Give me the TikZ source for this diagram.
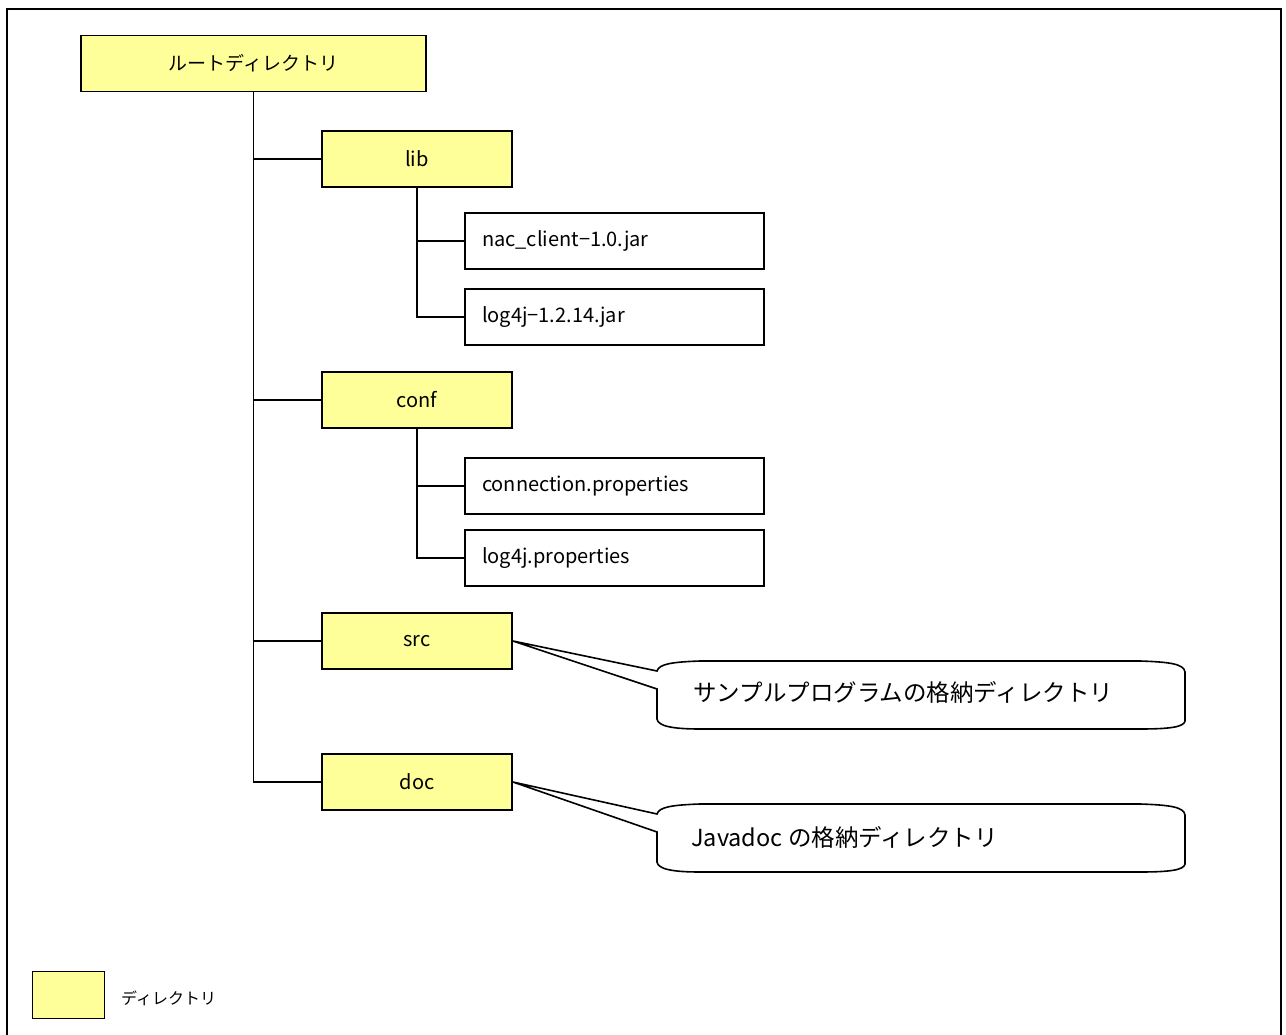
\documentclass[tikz,border=0pt]{standalone}
\usepackage{fontspec}
\setmainfont{Noto Sans CJK JP}
\usepackage{tikz}
\usepackage{xcolor}
\usetikzlibrary{calc}
\definecolor{dirfill}{HTML}{FFFF99}
\tikzset{
  dirbox/.style={draw=black,line width=1.8pt,fill=dirfill,minimum width=190pt,minimum height=56pt,inner sep=0pt,font=\fontsize{20}{24}\selectfont},
  filebox/.style={draw=black,line width=1.8pt,fill=white,minimum width=299pt,minimum height=56pt,text width=265pt,align=left,inner sep=0pt,font=\fontsize{20}{24}\selectfont},
  tree/.style={line width=1.6pt},
  notetext/.style={anchor=west,inner sep=0pt,font=\fontsize{23.5}{28}\selectfont}
}
\begin{document}
\begin{tikzpicture}[x=1pt,y=-1pt]
            \useasboundingbox (0,0) rectangle (1286,1035);
            \draw[line width=1.8pt] (7,1040) -- (7,9) -- (1281,9) -- (1281,1040);
            \node[dirbox,minimum width=345pt,font=\fontsize{19}{24}\selectfont] (root) at (253.5,63.5) {ルートディレクトリ};
            \node[dirbox] (lib) at (417,159) {lib};
            \node[filebox] (nacjar) at (614.5,241) {nac\_client−1.0.jar};
            \node[filebox] (logjar) at (614.5,317) {log4j−1.2.14.jar};
            \node[dirbox] (conf) at (417,400) {conf};
            \node[filebox] (connprop) at (614.5,486) {connection.properties};
            \node[filebox] (logprop) at (614.5,558) {log4j.properties};
            \node[dirbox] (src) at (417,641) {src};
            \node[dirbox] (doc) at (417,782) {doc};
            \draw[tree] (root.south) |- (doc.west);
            \draw[tree] (root.south |- lib.west) -- (lib.west);
            \draw[tree] (root.south |- conf.west) -- (conf.west);
            \draw[tree] (root.south |- src.west) -- (src.west);
            \draw[tree] (lib.south) |- (logjar.west);
            \draw[tree] (lib.south |- nacjar.west) -- (nacjar.west);
            \draw[tree] (conf.south) |- (logprop.west);
            \draw[tree] (conf.south |- connprop.west) -- (connprop.west);
            \draw[tree,fill=white] (src.east) -- (657,671) .. controls (659,664) and (672,662) .. (700,661)
              -- (1140,661) .. controls (1170,662) and (1184,664) .. (1185,672) -- (1185,721)
              .. controls (1184,727) and (1170,729) .. (1140,729) -- (700,729)
              .. controls (672,729) and (658,726) .. (657,719) -- (657,689) -- cycle;
            \node[notetext] (srcnote) at (693,692) {サンプルプログラムの格納ディレクトリ};
            \draw[tree,fill=white] (doc.east) -- (657,814) .. controls (659,807) and (672,805) .. (700,804)
              -- (1140,804) .. controls (1170,805) and (1184,807) .. (1185,815) -- (1185,864)
              .. controls (1184,870) and (1170,872) .. (1140,872) -- (700,872)
              .. controls (672,872) and (658,869) .. (657,862) -- (657,832) -- cycle;
            \node[notetext] (docnote) at (691,837) {Javadoc の格納ディレクトリ};
            \node[dirbox,minimum width=72pt,minimum height=47pt] (legend) at (68.5,995) {};
            \node[anchor=west,inner sep=0pt,font=\fontsize{16}{20}\selectfont] (legendtext) at (121,998) {ディレクトリ};
        \end{tikzpicture}
\end{document}
